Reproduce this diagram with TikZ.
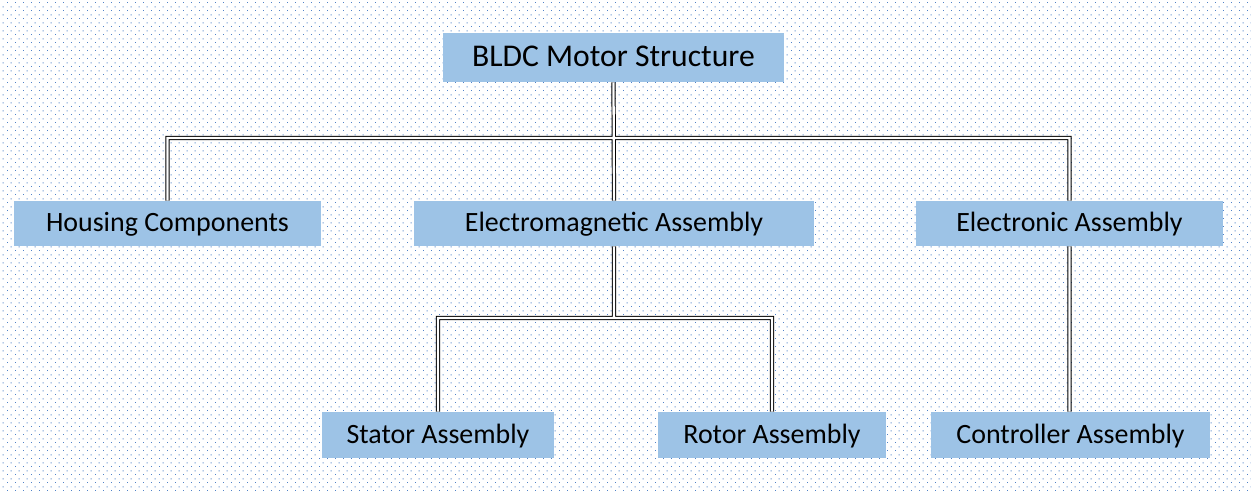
\documentclass[tikz,border=0pt]{standalone}
\usepackage{fontspec}
\setmainfont{Carlito}
\usetikzlibrary{positioning, patterns}

\definecolor{boxblue}{HTML}{9DC3E6}
\definecolor{dotblue}{RGB}{80,130,200}

% background dot grid
\pgfdeclarepatternformonly{bgdots}{\pgfpointorigin}{\pgfpoint{0.16cm}{0.16cm}}{\pgfpoint{0.16cm}{0.16cm}}{
  \pgfpathrectangle{\pgfpoint{0cm}{0cm}}{\pgfpoint{0.022cm}{0.022cm}}
  \pgfpathrectangle{\pgfpoint{0.08cm}{0.08cm}}{\pgfpoint{0.022cm}{0.022cm}}
  \pgfusepath{fill}}

\begin{document}
\begin{tikzpicture}[
  font=\fontsize{15.9}{18}\selectfont,
  part/.style={fill=boxblue, inner sep=0pt, minimum height=0.9cm, align=center,
               text height=0.42cm, text depth=0.09cm},
  head/.style={part, minimum height=0.98cm, font=\fontsize{18}{21}\selectfont,
               text height=0.47cm, text depth=0.1cm},
  link/.style={draw=black, line width=0.55pt, double=white, double distance=1.3pt},
]
  \fill[white] (0,0) rectangle (25.02,9.8);
  \fill[pattern=bgdots, pattern color=dotblue] (0,0) rectangle (25.02,9.8);
  \useasboundingbox (0,0) rectangle (25.02,9.8);

  \coordinate (bus) at (12.28,7.04);
  \coordinate (sub) at (12.28,3.44);

  % boxes
  \node[head, minimum width=6.82cm] (root) at (12.27,8.65) {BLDC Motor Structure};
  \node[part, minimum width=6.14cm] (hous) at (3.35,5.33) {Housing Components};
  \node[part, minimum width=8.0cm] (em) at (12.28,5.33) {Electromagnetic Assembly};
  \node[part, minimum width=6.14cm] (elec) at (21.39,5.33) {Electronic Assembly};
  \node[part, minimum width=4.64cm, minimum height=0.92cm] (stat) at (8.76,1.1) {Stator Assembly};
  \node[part, minimum width=4.56cm, minimum height=0.92cm] (rot) at (15.44,1.1) {Rotor Assembly};
  \node[part, minimum width=5.58cm, minimum height=0.92cm] (ctrl) at (21.41,1.1) {Controller Assembly};

  % wiring
  \draw[link] (root.south) -- (em.north)
    (hous.north) |- (bus) -| (elec.north)
    (elec.south) -- (elec.south |- ctrl.north)
    (em.south) -- (sub)
    (stat.north) |- (sub) -| (rot.north);
\end{tikzpicture}
\end{document}
